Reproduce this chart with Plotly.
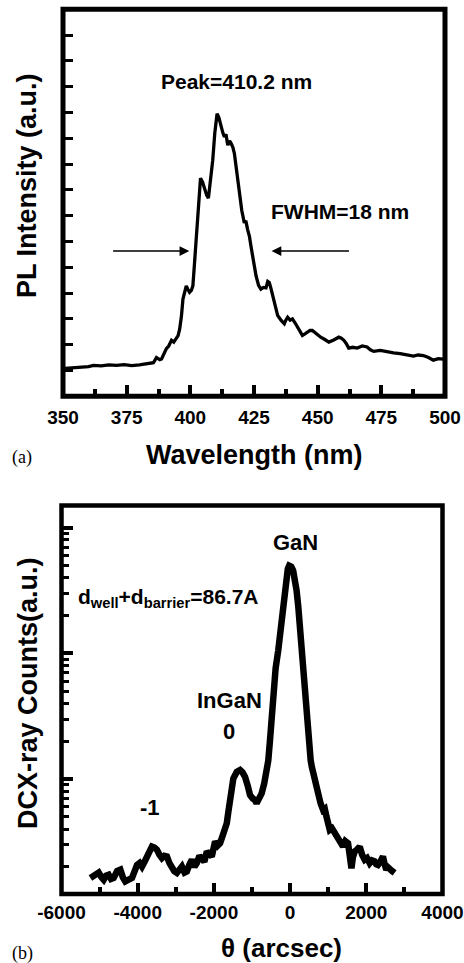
import plotly.graph_objects as go

# ---------------- data: panel (a) PL spectrum ----------------
wavelength_nm = [350.8, 355, 358, 360, 362, 365, 368, 371, 374, 377,
                 380, 383.5, 385.5, 386.7, 388, 388.7, 390, 390.6, 391.5, 392.6,
                 393.5, 394.5, 395.2, 395.8, 396.5, 397.1, 398.4, 399.0, 399.7, 400.4,
                 401.0, 401.6, 402.3, 403.0, 404.0, 404.8, 405.6, 406.4, 407.1, 408.0,
                 408.8, 409.6, 410.5, 411.2, 412.1, 412.8, 413.4, 414.0, 414.7, 415.4,
                 416.0, 416.7, 417.3, 418.3, 419.3, 420.2, 421.2, 421.8, 422.5, 423.2,
                 423.8, 424.8, 425.8, 426.8, 427.7, 428.7, 429.7, 430.4, 431.0, 431.6,
                 432.3, 433.3, 434.3, 435.6, 436.9, 437.5, 438.2, 439.2, 440.1, 441.1,
                 442.1, 443.0, 444.0, 445.0, 446.0, 447.0, 447.9, 449.5, 451.2, 452.8,
                 454.4, 456.3, 458.3, 459.3, 460.3, 461.2, 462.2, 463.8, 465.5, 467.5,
                 469.4, 470.7, 472.0, 474.6, 477.2, 479.8, 482.4, 485.0, 487.6, 489.5,
                 491.5, 493.5, 495.4, 497.4, 499.3]
pl_intensity = [1.08, 1.10, 1.12, 1.15, 1.20, 1.18, 1.22, 1.20, 1.23, 1.19,
                1.22, 1.27, 1.30, 1.50, 1.42, 1.45, 1.70, 1.85, 1.95, 2.17,
                2.10, 2.23, 2.35, 2.60, 3.10, 3.77, 4.28, 4.15, 4.03, 4.10,
                4.28, 5.10, 6.08, 7.30, 8.45, 8.30, 8.00, 7.80, 7.68, 8.40,
                9.15, 10.20, 10.95, 10.80, 10.43, 10.20, 10.05, 10.15, 9.73, 9.90,
                9.80, 9.65, 9.41, 8.60, 7.83, 7.20, 6.72, 6.80, 6.46, 6.20,
                5.82, 5.20, 4.67, 4.30, 4.15, 4.22, 4.20, 4.45, 4.41, 4.20,
                3.90, 3.50, 3.13, 2.95, 2.81, 2.95, 3.06, 2.95, 3.00, 2.85,
                2.68, 2.50, 2.36, 2.42, 2.48, 2.55, 2.55, 2.42, 2.29, 2.20,
                2.10, 2.18, 2.29, 2.25, 2.17, 2.05, 1.87, 1.90, 1.87, 1.95,
                1.91, 1.80, 1.74, 1.78, 1.72, 1.68, 1.65, 1.60, 1.56, 1.60,
                1.58, 1.50, 1.40, 1.46, 1.44]

# FWHM arrows (wavelength endpoints, intensity level)
fwhm_left = [369.1, 399.6]
fwhm_right = [462.9, 431.9]
fwhm_level = 5.63

# ---------------- data: panel (b) DCXRD rocking curve ----------------
theta_arcsec = [-5241, -5130, -5023, -4950, -4893, -4830, -4762, -4700, -4631, -4540,
                -4455, -4390, -4325, -4238, -4149, -4080, -4018, -3950, -3888, -3820,
                -3757, -3690, -3626, -3560, -3495, -3430, -3364, -3300, -3233, -3170,
                -3102, -3040, -2971, -2900, -2840, -2770, -2709, -2640, -2579, -2510,
                -2448, -2380, -2317, -2250, -2186, -2120, -2055, -2010, -1969, -1900,
                -1838, -1790, -1751, -1700, -1662, -1620, -1576, -1530, -1490, -1400,
                -1314, -1250, -1183, -1110, -1052, -980, -921, -880, -840, -791,
                -746, -680, -615, -573, -530, -484, -442, -380, -311, -250,
                -197, -150, -110, -60, -24, 30, 80, 125, 170, 215,
                256, 300, 343, 380, 414, 445, 474, 510, 540, 570,
                605, 650, 694, 736, 800, 866, 910, 955, 1000, 1042,
                1100, 1173, 1240, 1304, 1350, 1390, 1450, 1521, 1570, 1610,
                1650, 1696, 1760, 1827, 1890, 1958, 2020, 2089, 2150, 2220,
                2260, 2306, 2370, 2437, 2480, 2526, 2570, 2613, 2680, 2743]
xray_counts = [16.3, 17.5, 18.0, 16.5, 15.8, 17.0, 17.3, 16.0, 16.3, 18.5,
               19.0, 16.5, 15.3, 15.8, 16.3, 18.5, 20.7, 21.5, 20.1, 22.0,
               24.2, 27.0, 29.0, 28.5, 27.4, 25.0, 23.5, 24.5, 24.2, 21.5,
               19.5, 18.5, 17.9, 19.5, 20.1, 18.0, 18.4, 21.0, 22.8, 20.0,
               21.4, 24.5, 23.5, 22.0, 26.5, 25.5, 24.2, 28.0, 31.8, 29.5,
               30.8, 34.0, 37.1, 40.0, 44.5, 55.0, 66.1, 82.0, 101, 114,
               118, 113, 104, 88, 74.6, 70.0, 68.1, 64.1, 67.0, 70.0,
               76.9, 92, 111, 140, 200, 300, 508, 760, 1057, 1600,
               2333, 3200, 4036, 4700, 4990, 4900, 4560, 3900, 3162, 2350,
               1618, 1050, 690, 470, 332, 250, 204, 165, 141, 125,
               111, 97, 86.9, 72.4, 64, 56.8, 58, 50.2, 44, 39.4,
               40.5, 37.1, 34.5, 32.8, 30.5, 29.0, 32.0, 30.8, 24.0, 19.5,
               24.0, 26.5, 27.5, 29.0, 25.0, 22.8, 23.5, 21.4, 22.5, 22.1,
               21.0, 20.7, 22.0, 24.2, 21.0, 19.0, 19.8, 19.5, 18.5, 17.9]

a_xticks = [350, 375, 400, 425, 450, 475, 500]
a_xticklabels = ["350", "375", "400", "425", "450", "475", "500"]
b_xticks = [-6000, -4000, -2000, 0, 2000, 4000]
b_xticklabels = ["-6000", "-4000", "-2000", "0", "2000", "4000"]

# ---------------- layout helpers ----------------
W, H = 464, 963
def px(x):
    return x / W
def py(y):
    return 1 - y / H

SANS = "Liberation Sans, Arial, sans-serif"
SERIF = "Liberation Serif, Times New Roman, serif"

A_X = [px(63), px(445)]
A_Y = [py(396.3), py(9.2)]
B_X = [px(61.5), px(442.5)]
B_Y = [py(894), py(505.5)]
B_YRANGE = [1.085, 4.177]

fig = go.Figure()
fig.add_trace(go.Scatter(x=wavelength_nm, y=pl_intensity, mode="lines",
                         line=dict(color="black", width=3.3), xaxis="x", yaxis="y",
                         showlegend=False, hoverinfo="skip"))
fig.add_trace(go.Scatter(x=theta_arcsec, y=xray_counts, mode="lines",
                         line=dict(color="black", width=6.5), xaxis="x2", yaxis="y2",
                         showlegend=False, hoverinfo="skip"))
# empty helper traces so that the minor-tick overlay axes are drawn
fig.add_trace(go.Scatter(x=[None], y=[None], xaxis="x3", yaxis="y",
                         showlegend=False, hoverinfo="skip"))
fig.add_trace(go.Scatter(x=[None], y=[None], xaxis="x4", yaxis="y2",
                         showlegend=False, hoverinfo="skip"))
fig.add_trace(go.Scatter(x=[None], y=[None], xaxis="x2", yaxis="y3",
                         showlegend=False, hoverinfo="skip"))

tickfont = dict(family=SANS, size=19, color="black", weight="bold")
bold = lambda s: "<b>%s</b>" % s

minor_log = [m * 10 ** e for e in range(1, 5) for m in range(2, 10)]
a_minor = [362.5 + 25 * i for i in range(6)]
b_minor = [-5000 + 2000 * i for i in range(5)]

common = dict(showgrid=False, zeroline=False, showline=False, tickcolor="black",
              automargin=False, fixedrange=True)

fig.update_layout(
    width=W, height=H, margin=dict(l=0, r=0, t=0, b=0, pad=0, autoexpand=False),
    paper_bgcolor="white", plot_bgcolor="white",
    xaxis=dict(domain=A_X, anchor="y", range=[350, 500],
               tickvals=a_xticks, ticktext=[bold(t) for t in a_xticklabels],
               ticks="inside", ticklen=11, tickwidth=3.5,
               tickfont=tickfont, ticklabelstandoff=8, **common),
    xaxis3=dict(domain=A_X, anchor="y", overlaying="x", range=[350, 500],
                tickvals=a_minor, ticks="inside", ticklen=7, tickwidth=3.5,
                showticklabels=False, **common),
    yaxis=dict(domain=A_Y, anchor="x", range=[0, 15],
               dtick=1, ticks="inside", ticklen=10, tickwidth=3,
               showticklabels=False, **common),
    xaxis2=dict(domain=B_X, anchor="y2", range=[-6000, 4000],
                tickvals=b_xticks, ticktext=[bold(t) for t in b_xticklabels],
                ticks="inside", ticklen=11, tickwidth=3.5,
                tickfont=tickfont, ticklabelstandoff=5, **common),
    xaxis4=dict(domain=B_X, anchor="y2", overlaying="x2", range=[-6000, 4000],
                tickvals=b_minor, ticks="inside", ticklen=7, tickwidth=3.5,
                showticklabels=False, **common),
    yaxis2=dict(domain=B_Y, anchor="x2", type="log", range=B_YRANGE,
                tickvals=[10, 100, 1000, 10000],
                ticks="inside", ticklen=11, tickwidth=3.5,
                showticklabels=False, **common),
    yaxis3=dict(domain=B_Y, anchor="x2", overlaying="y2", type="log", range=B_YRANGE,
                tickvals=minor_log, ticks="inside", ticklen=7, tickwidth=3,
                showticklabels=False, **common),
)

# frames
fig.add_shape(type="rect", xref="x domain", yref="y domain", x0=0, x1=1, y0=0, y1=1,
              line=dict(color="black", width=5))
fig.add_shape(type="rect", xref="x2 domain", yref="y2 domain", x0=0, x1=1, y0=0, y1=1,
              line=dict(color="black", width=4.5))

# FWHM arrows
for seg in (fwhm_left, fwhm_right):
    fig.add_annotation(x=seg[1], y=fwhm_level, ax=seg[0], ay=fwhm_level,
                       xref="x", yref="y", axref="x", ayref="y", text="",
                       showarrow=True, arrowhead=2, arrowsize=1.3, arrowwidth=1.5,
                       arrowcolor="black")

def label(text, x, y, size, xanchor="center", family=SANS, is_bold=True, angle=0):
    fig.add_annotation(text=bold(text) if is_bold else text, x=px(x), y=py(y),
                       xref="paper", yref="paper",
                       xanchor=xanchor, yanchor="middle", showarrow=False,
                       textangle=angle, borderpad=0,
                       font=dict(family=family, size=size, color="black"))

# panel (a) texts
label("Peak=410.2 nm", 236.7, 81, 21)
label("FWHM=18 nm", 340, 212, 21)
label("PL Intensity (a.u.)", 27, 186, 27, angle=-90)
label("Wavelength (nm)", 254, 455, 27)
label("(a)", 22, 457, 18, family=SERIF, is_bold=False)

# panel (b) texts
label("GaN", 295, 542, 22)
label("d<sub>well</sub>+d<sub>barrier</sub>=86.7A", 76.7, 598, 21, xanchor="left")
label("InGaN", 229, 700, 22)
label("0", 229, 731, 22)
label("-1", 150, 807, 22)
label("DCX-ray Counts(a.u.)", 28, 693, 27, angle=-90)
label("θ (arcsec)", 281, 948, 26)
label("(b)", 22, 953, 18, family=SERIF, is_bold=False)

fig.write_html("out.html", config=dict(displayModeBar=False))
